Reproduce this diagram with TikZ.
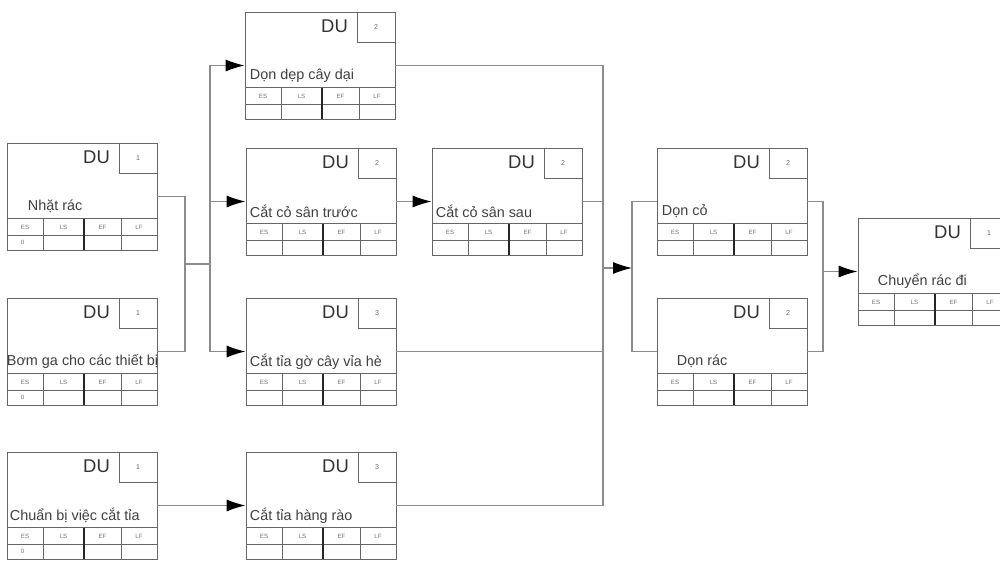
\documentclass[tikz,border=0pt]{standalone}
\usepackage{fontspec}
\setmainfont{Liberation Sans}
\usepackage{tikz}
\usetikzlibrary{arrows.meta,positioning,calc}

% one activity box: name, left, top, label, label indent, duration, first value
\newcommand{\actbox}[7]{%
  \node[actbox] (#1) at (#2+75,#3+53.5) {};
  \node[dubox, anchor=north east] (#1-d) at (#1.north east) {#6};
  \node[dutext] (#1-du) at ([xshift=1.8cm,yshift=-0.3cm]#1.north west) {DU};
  \node[lbl] (#1-l) at ([xshift=#5,yshift=-1.28cm]#1.north west) {#4};
  \draw[tbl] ([yshift=-1.52cm]#1.north west) -- ([yshift=-1.52cm]#1.north east);
  \draw[tbl] ([yshift=-1.86cm]#1.north west) -- ([yshift=-1.86cm]#1.north east);
  \draw[tbl] ([xshift=0.74cm,yshift=-1.52cm]#1.north west) -- ([xshift=0.74cm]#1.south west);
  \draw[tblthick] ([xshift=1.54cm,yshift=-1.52cm]#1.north west) -- ([xshift=1.54cm]#1.south west);
  \draw[tbl] ([xshift=2.3cm,yshift=-1.52cm]#1.north west) -- ([xshift=2.3cm]#1.south west);
  \node[hd] (#1-es) at ([xshift=0.37cm,yshift=-1.69cm]#1.north west) {ES};
  \node[hd] (#1-ls) at ([xshift=1.14cm,yshift=-1.69cm]#1.north west) {LS};
  \node[hd] (#1-ef) at ([xshift=1.92cm,yshift=-1.69cm]#1.north west) {EF};
  \node[hd] (#1-lf) at ([xshift=2.65cm,yshift=-1.69cm]#1.north west) {LF};
  \node[hd] (#1-v) at ([xshift=0.32cm,yshift=-1.99cm]#1.north west) {#7};
}

\begin{document}
\begin{tikzpicture}[
  x=0.02cm, y=-0.02cm,
  actbox/.style={draw=black!60, line width=0.5pt, fill=white,
                 minimum width=3cm, minimum height=2.14cm, inner sep=0pt},
  dubox/.style={draw=black!60, line width=0.5pt, minimum width=0.76cm,
                minimum height=0.6cm, inner sep=0pt,
                font=\fontsize{4}{5}\selectfont, text=black!60},
  dutext/.style={inner sep=0pt, font=\fontsize{10.5}{12}\selectfont, text=black!80},
  lbl/.style={anchor=west, inner sep=0pt, font=\fontsize{8.2}{9}\selectfont, text=black!75},
  hd/.style={inner sep=0pt, font=\fontsize{3.5}{4}\selectfont, text=black!55},
  tbl/.style={draw=black!60, line width=0.5pt},
  tblthick/.style={draw=black!85, line width=1.1pt},
  conn/.style={draw=black!45, line width=0.6pt},
  arr/.style={conn, -{Latex[length=3.8mm,width=2.4mm,color=black]}}
]
\useasboundingbox[fill=white] (0,0) rectangle (1000,574);

% ======= Activities =======
\actbox{nhat}{7}{143}{Nhặt rác}{0.42cm}{1}{0}
\actbox{bomga}{7}{298}{Bơm ga cho các thiết bị}{0cm}{1}{0}
\actbox{chuanbi}{7}{452}{Chuẩn bị việc cắt tỉa}{0.06cm}{1}{0}
\actbox{dondep}{245}{12}{Dọn dẹp cây dại}{0.1cm}{2}{}
\actbox{cattruoc}{246}{148}{Cắt cỏ sân trước}{0.08cm}{2}{}
\actbox{catsau}{432}{148}{Cắt cỏ sân sau}{0.08cm}{2}{}
\actbox{cattia}{246}{298}{Cắt tỉa gờ cây vỉa hè}{0.08cm}{3}{}
\actbox{hangrao}{246}{452}{Cắt tỉa hàng rào}{0.08cm}{3}{}
\actbox{donco}{657}{148}{Dọn cỏ}{0.1cm}{2}{}
\actbox{donrac}{657}{298}{Dọn rác}{0.4cm}{2}{}
\actbox{chuyen}{858}{218}{Chuyển rác đi}{0.4cm}{1}{}

% ======= Connections =======
\coordinate (jA) at (185,264);
\coordinate (jB) at (210,264);
\draw[conn] (nhat.east) -| (jA);
\draw[conn] (bomga.east) -| (jA);
\draw[conn] (jA) -- (jB);
\draw[arr] (jB) |- (dondep.west);
\draw[arr] (jB) |- (cattruoc.west);
\draw[arr] (jB) |- (cattia.west);
\draw[arr] (chuanbi.east) -- (hangrao.west);
\draw[arr] (cattruoc.east) -- (catsau.west);

\coordinate (jC) at (603,268);
\coordinate (jD) at (632,268);
\draw[conn] (dondep.east) -| (jC);
\draw[conn] (catsau.east) -| (jC);
\draw[conn] (cattia.east) -| (jC);
\draw[conn] (hangrao.east) -| (jC);
\draw[arr] (jC) -- (jD);
\draw[conn] (donco.west) -| (jD);
\draw[conn] (donrac.west) -| (jD);

\coordinate (jE) at (823,268);
\draw[conn] (donco.east) -| (jE);
\draw[conn] (donrac.east) -| (jE);
\draw[arr] (jE |- chuyen.west) -- (chuyen.west);

\end{tikzpicture}
\end{document}
